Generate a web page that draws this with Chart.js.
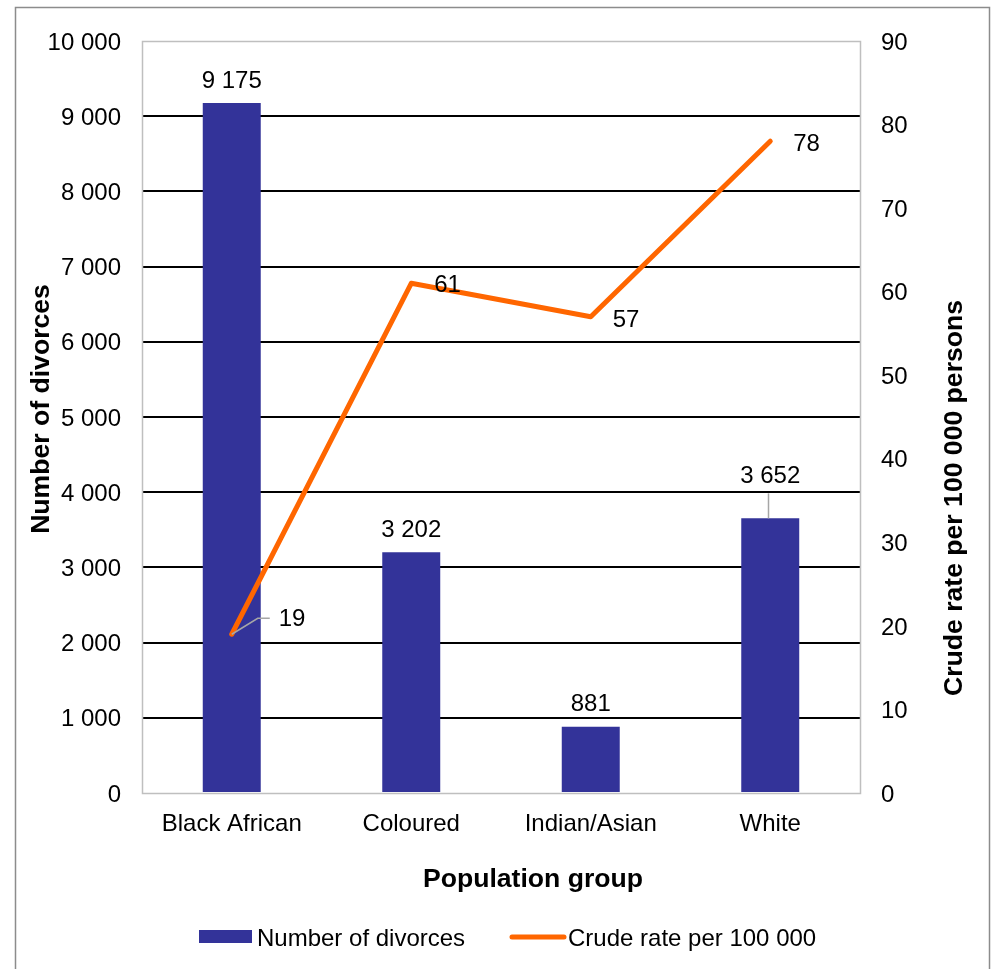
<!DOCTYPE html>
<html>
<head>
<meta charset="utf-8">
<script src="https://cdn.jsdelivr.net/npm/chart.js@4.4.1/dist/chart.umd.min.js"></script>
<style>
  html, body { margin: 0; padding: 0; background: #ffffff; }
  #wrap { width: 998px; height: 969px; position: relative; }
</style>
</head>
<body>
<div id="wrap"><canvas id="c" width="998" height="969"></canvas></div>
<script>
// ---- data ----
const categories = ['Black African', 'Coloured', 'Indian/Asian', 'White'];
const divorces = [9175, 3202, 881, 3652];
const crudeRate = [19, 61, 57, 78];
const seriesNames = ['Number of divorces', 'Crude rate per 100 000'];
const axisTitles = { x: 'Population group', left: 'Number of divorces', right: 'Crude rate per 100 000 persons' };

// ---- styles ----
const FONT = '"Liberation Sans", Arial, sans-serif';
const BAR_COLOR = '#333399';
const LINE_COLOR = '#FF6600';
const LEADER_COLOR = '#a6a6a6';
const TITLE_FONT = 'bold 26.6px ' + FONT;

function fmt(v) {
  return String(v).replace(/\B(?=(\d{3})+(?!\d))/g, ' ');
}

// label placement (offsets relative to the mark, in px)
const barLabelPlacement = [
  { lift: 22 }, { lift: 22 }, { lift: 22 }, { lift: 42, leader: true }
];
const lineLabelPlacement = [
  { dx: 47, dy: -15, leader: true }, { dx: 23, dy: 2 }, { dx: 22, dy: 4 }, { dx: 23, dy: 3 }
];
// title anchor points (centre of text)
const titlePlacement = { x: [533, 880], left: [42, 409], right: [955, 498] };

const framePlugin = {
  id: 'frame',
  beforeDraw(chart) {
    const ctx = chart.ctx;
    ctx.save();
    ctx.fillStyle = '#fff';
    ctx.fillRect(0, 0, chart.width, chart.height);
    ctx.strokeStyle = '#8c8c8c';
    ctx.lineWidth = 1.5;
    ctx.strokeRect(15.5, 7.5, 974, 980);
    ctx.restore();
  },
  beforeDatasetsDraw(chart) {
    const ctx = chart.ctx;
    const a = chart.chartArea;
    ctx.save();
    ctx.strokeStyle = '#bfbfbf';
    ctx.lineWidth = 1.5;
    ctx.strokeRect(Math.round(a.left) + 0.5, Math.round(a.top) + 0.5, Math.round(a.right - a.left), Math.round(a.bottom - a.top));
    ctx.restore();
  }
};

const titlePlugin = {
  id: 'axisTitlesCustom',
  afterDraw(chart) {
    const ctx = chart.ctx;
    ctx.save();
    ctx.font = TITLE_FONT;
    ctx.fillStyle = '#000';
    ctx.textAlign = 'center';
    ctx.textBaseline = 'middle';
    ctx.fillText(axisTitles.x, titlePlacement.x[0], titlePlacement.x[1]);
    ctx.save();
    ctx.translate(titlePlacement.left[0], titlePlacement.left[1]);
    ctx.rotate(-Math.PI / 2);
    ctx.fillText(axisTitles.left, 0, 0);
    ctx.restore();
    ctx.save();
    ctx.translate(titlePlacement.right[0], titlePlacement.right[1]);
    ctx.rotate(-Math.PI / 2);
    ctx.fillText(axisTitles.right, 0, 0);
    ctx.restore();
    ctx.restore();
  }
};

const labelPlugin = {
  id: 'valueLabels',
  afterDatasetsDraw(chart) {
    const ctx = chart.ctx;
    ctx.save();
    ctx.font = '24px ' + FONT;
    ctx.fillStyle = '#000';
    // bars
    const barMeta = chart.getDatasetMeta(0);
    barMeta.data.forEach((el, i) => {
      const p = barLabelPlacement[i];
      const ty = el.y - p.lift;
      if (p.leader) {
        ctx.strokeStyle = LEADER_COLOR;
        ctx.lineWidth = 1.5;
        ctx.beginPath();
        ctx.moveTo(Math.round(el.x) - 1.5, el.y);
        ctx.lineTo(Math.round(el.x) - 1.5, ty + 17);
        ctx.stroke();
      }
      ctx.textAlign = 'center';
      ctx.textBaseline = 'middle';
      ctx.fillText(fmt(divorces[i]), el.x, ty);
    });
    // line
    const lineMeta = chart.getDatasetMeta(1);
    lineMeta.data.forEach((el, i) => {
      const p = lineLabelPlacement[i];
      const tx = el.x + p.dx, ty = el.y + p.dy;
      if (p.leader) {
        ctx.strokeStyle = LEADER_COLOR;
        ctx.lineWidth = 1.5;
        ctx.beginPath();
        ctx.moveTo(el.x, el.y);
        ctx.lineTo(el.x + 26, ty - 1);
        ctx.lineTo(tx - 9, ty - 1);
        ctx.stroke();
      }
      ctx.textAlign = 'left';
      ctx.textBaseline = 'middle';
      ctx.fillText(fmt(crudeRate[i]), tx, ty);
    });
    ctx.restore();
  }
};

const legendPlugin = {
  id: 'customLegend',
  afterDraw(chart) {
    const ctx = chart.ctx;
    const ds = chart.data.datasets;
    const y = 937;
    ctx.save();
    ctx.font = '24px ' + FONT;
    ctx.textBaseline = 'middle';
    ctx.textAlign = 'left';
    // bar item
    ctx.fillStyle = ds[0].backgroundColor;
    ctx.fillRect(199, 930, 53, 13);
    ctx.fillStyle = '#000';
    ctx.fillText(ds[0].label, 257, y + 2);
    // line item
    ctx.strokeStyle = ds[1].borderColor;
    ctx.lineWidth = 5;
    ctx.lineCap = 'round';
    ctx.beginPath();
    ctx.moveTo(512, y);
    ctx.lineTo(564, y);
    ctx.stroke();
    ctx.fillText(ds[1].label, 568, y + 2);
    ctx.restore();
  }
};

new Chart(document.getElementById('c'), {
  type: 'bar',
  data: {
    labels: categories,
    datasets: [
      {
        label: seriesNames[0],
        data: divorces,
        backgroundColor: BAR_COLOR,
        yAxisID: 'y',
        categoryPercentage: 1,
        barPercentage: 0.323,
        order: 2
      },
      {
        type: 'line',
        label: seriesNames[1],
        data: crudeRate,
        borderColor: LINE_COLOR,
        backgroundColor: LINE_COLOR,
        borderWidth: 5,
        borderCapStyle: 'round',
        borderJoinStyle: 'round',
        pointRadius: 0,
        tension: 0,
        yAxisID: 'y1',
        order: 1
      }
    ]
  },
  options: {
    responsive: false,
    animation: false,
    devicePixelRatio: 1,
    layout: { padding: { left: 15, right: 8, top: 41, bottom: 60 } },
    plugins: { legend: { display: false }, tooltip: { enabled: false } },
    scales: {
      x: {
        grid: { display: false },
        border: { display: false },
        ticks: { color: '#000', font: { family: FONT, size: 24 }, padding: 9, maxRotation: 0 },
        title: { display: false, text: axisTitles.x },
        afterFit(s) { s.height = 116; }
      },
      y: {
        position: 'left',
        min: 0, max: 10000,
        ticks: { stepSize: 1000, color: '#000', font: { family: FONT, size: 24 }, padding: 21, labelOffset: 2, callback: v => fmt(v) },
        grid: {
          drawTicks: false,
          lineWidth: 2,
          color: c => (c.tick && (c.tick.value === 0 || c.tick.value === 10000)) ? 'rgba(0,0,0,0)' : '#000'
        },
        border: { display: false },
        title: { display: false, text: axisTitles.left },
        afterFit(s) { s.width = 127; }
      },
      y1: {
        position: 'right',
        min: 0, max: 90,
        ticks: { stepSize: 10, color: '#000', font: { family: FONT, size: 24 }, padding: 21, labelOffset: 2 },
        grid: { display: false, drawTicks: false },
        border: { display: false },
        title: { display: false, text: axisTitles.right },
        afterFit(s) { s.width = 130; }
      }
    }
  },
  plugins: [framePlugin, labelPlugin, legendPlugin, titlePlugin]
});
</script>
</body>
</html>
